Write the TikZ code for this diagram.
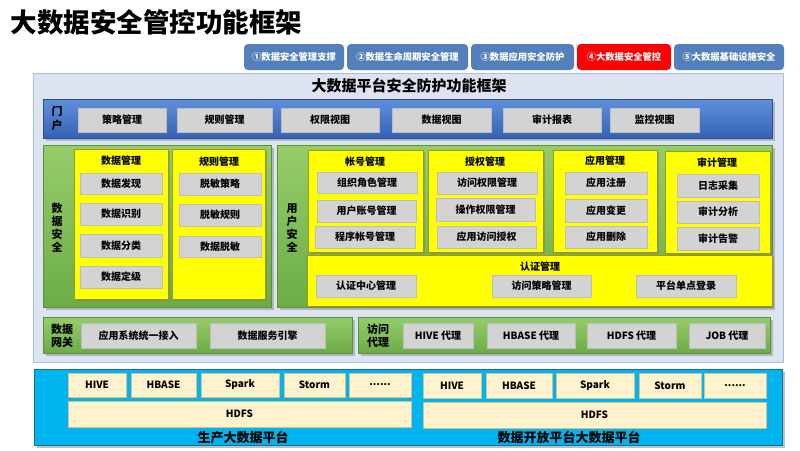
\documentclass[tikz,border=0pt]{standalone}
\usepackage{fontspec}
\setmainfont{Noto Sans CJK SC}
\usetikzlibrary{shadows}
\definecolor{tabblue}{HTML}{5380BB}
\definecolor{panelfill}{HTML}{DCE3F1}
\definecolor{paneldraw}{HTML}{A9BEE0}
\definecolor{portaltop}{HTML}{6090DB}
\definecolor{portalbot}{HTML}{3462B6}
\definecolor{portaldraw}{HTML}{2B4E8C}
\definecolor{greentop}{HTML}{96CD6A}
\definecolor{greenbot}{HTML}{6CAC46}
\definecolor{greendraw}{HTML}{5A9236}
\definecolor{yel}{HTML}{FFFF00}
\definecolor{yeldraw}{HTML}{9A9A20}
\definecolor{itemgray}{HTML}{D3D3D3}
\definecolor{itemdraw}{HTML}{BDBDBD}
\definecolor{cyanbar}{HTML}{00B5EF}
\definecolor{cyandraw}{HTML}{1C6E9C}
\definecolor{cream}{HTML}{FFF2CC}
\definecolor{creamdraw}{HTML}{CFC58A}
\newcommand\bx[7]{\node[#2,anchor=north west,outer sep=0pt,inner sep=0pt,
  minimum width={(#5-#3)*1pt},minimum height={(#6-#4)*1pt}] (#1) at (#3,#4) {#7};}
\tikzset{
  tabbox/.style={fill=tabblue,rounded corners=4pt,text=white,font=\bfseries\fontsize{9.3}{10}\selectfont},
  tabred/.style={tabbox,fill=red},
  panel/.style={fill=panelfill,draw=paneldraw,line width=0.8pt},
  portal/.style={top color=portaltop,bottom color=portalbot,draw=portaldraw,line width=0.8pt,
    drop shadow={shadow xshift=2.5pt,shadow yshift=-2.5pt,opacity=0.45}},
  greenbox/.style={top color=greentop,bottom color=greenbot,draw=greendraw,line width=0.8pt,
    drop shadow={shadow xshift=2.5pt,shadow yshift=-2.5pt,opacity=0.45}},
  yelbox/.style={fill=yel,draw=yeldraw,line width=0.8pt,
    drop shadow={shadow xshift=2pt,shadow yshift=-2pt,opacity=0.55}},
  item/.style={fill=itemgray,draw=itemdraw,line width=0.6pt,font=\bfseries\fontsize{10}{11}\selectfont},
  cyanbox/.style={fill=cyanbar,draw=cyandraw,line width=0.8pt,
    drop shadow={shadow xshift=2.5pt,shadow yshift=-2.5pt,opacity=0.5}},
  creambox/.style={fill=cream,draw=creamdraw,line width=0.7pt,font=\bfseries\fontsize{10}{11}\selectfont},
  ytitle/.style={font=\bfseries\fontsize{10}{11}\selectfont},
  vlabel/.style={font=\bfseries\fontsize{11}{13}\selectfont,align=center},
  blabel/.style={font=\bfseries\fontsize{13}{14}\selectfont},
}
\begin{document}
\begin{tikzpicture}[x=1pt,y=-1pt]
\useasboundingbox[fill=white] (0,0) rectangle (800,450);
% title
\node[anchor=west,font=\bfseries\fontsize{26.5}{30}\selectfont] (title) at (7,22) {大数据安全管控功能框架};
% tabs
\bx{t1}{tabbox}{244}{44}{344}{70}{①数据安全管理支撑}
\bx{t2}{tabbox}{347}{44}{468}{70}{②数据生命周期安全管理}
\bx{t3}{tabbox}{471}{44}{574}{70}{③数据应用安全防护}
\bx{t4}{tabred}{577}{44}{671}{70}{④大数据安全管控}
\bx{t5}{tabbox}{674}{44}{784}{70}{⑤大数据基础设施安全}
% outer panel
\bx{outer}{panel}{33}{73}{783}{362}{}
\node[font=\bfseries\fontsize{15}{16}\selectfont] (head) at (409,86) {大数据平台安全防护功能框架};
% portal
\bx{portal}{portal}{43}{99}{772}{138}{}
\node[vlabel,font=\bfseries\fontsize{11}{14}\selectfont] (pl) at (57,118) {门\\户};
\bx{p1}{item}{78}{108}{166}{132}{策略管理}
\bx{p2}{item}{177}{108}{272}{132}{规则管理}
\bx{p3}{item}{281}{108}{379}{132}{权限视图}
\bx{p4}{item}{392}{108}{491}{132}{数据视图}
\bx{p5}{item}{503}{108}{601}{132}{审计报表}
\bx{p6}{item}{610}{108}{699}{132}{监控视图}
% data security
\bx{ds}{greenbox}{43}{145}{271}{307}{}
\node[vlabel] (dsl) at (57,228) {数\\据\\安\\全};
\bx{dm}{yelbox}{74}{149}{168}{299}{}
\node[ytitle] (dmt) at (121,161) {数据管理};
\bx{dm1}{item}{80}{173}{162}{194}{数据发现}
\bx{dm2}{item}{80}{203}{162}{225}{数据识别}
\bx{dm3}{item}{80}{234}{162}{257}{数据分类}
\bx{dm4}{item}{80}{266}{162}{288}{数据定级}
\bx{rm}{yelbox}{172}{149}{265}{299}{}
\node[ytitle] (rmt) at (219,162) {规则管理};
\bx{rm1}{item}{179}{173}{261}{195}{脱敏策略}
\bx{rm2}{item}{179}{204}{261}{226}{脱敏规则}
\bx{rm3}{item}{179}{236}{261}{257}{数据脱敏}
% user security
\bx{us}{greenbox}{277}{145}{772}{307}{}
\node[vlabel] (usl) at (292,228) {用\\户\\安\\全};
\bx{am}{yelbox}{308}{150}{423}{252}{}
\node[ytitle] (amt) at (365,162) {帐号管理};
\bx{am1}{item}{317}{172}{417}{193}{组织角色管理}
\bx{am2}{item}{317}{200}{416}{222}{用户账号管理}
\bx{am3}{item}{315}{226}{415}{248}{程序帐号管理}
\bx{au}{yelbox}{428}{150}{543}{252}{}
\node[ytitle] (aut) at (485,162) {授权管理};
\bx{au1}{item}{437}{172}{537}{194}{访问权限管理}
\bx{au2}{item}{436}{198}{535}{221}{操作权限管理}
\bx{au3}{item}{437}{226}{536}{248}{应用访问授权}
\bx{ap}{yelbox}{553}{150}{657}{252}{}
\node[ytitle] (apt) at (605,161) {应用管理};
\bx{ap1}{item}{565}{172}{647}{194}{应用注册}
\bx{ap2}{item}{565}{199}{647}{222}{应用变更}
\bx{ap3}{item}{565}{226}{647}{248}{应用删除}
\bx{ad}{yelbox}{665}{151}{770}{253}{}
\node[ytitle] (adt) at (717,163) {审计管理};
\bx{ad1}{item}{677}{174}{759}{197}{日志采集}
\bx{ad2}{item}{677}{201}{759}{223}{审计分析}
\bx{ad3}{item}{677}{227}{759}{250}{审计告警}
\bx{cm}{yelbox}{307}{255}{772}{306}{}
\node[ytitle] (cmt) at (540,267) {认证管理};
\bx{cm1}{item}{316}{275}{416}{297}{认证中心管理}
\bx{cm2}{item}{492}{275}{591}{297}{访问策略管理}
\bx{cm3}{item}{636}{275}{736}{297}{平台单点登录}
% data gateway
\bx{gw}{greenbox}{43}{317}{352}{353}{}
\node[vlabel] (gwl) at (62,336) {数据\\网关};
\bx{gw1}{item}{81}{323}{196}{348}{应用系统统一接入}
\bx{gw2}{item}{210}{323}{325}{348}{数据服务引擎}
% access proxy
\bx{px}{greenbox}{358}{317}{770}{353}{}
\node[vlabel] (pxl) at (378,336) {访问\\代理};
\bx{px1}{item}{403}{323}{473}{348}{HIVE 代理}
\bx{px2}{item}{487}{323}{575}{348}{HBASE 代理}
\bx{px3}{item}{587}{323}{676}{348}{HDFS 代理}
\bx{px4}{item}{689}{323}{765}{348}{JOB 代理}
% bottom platforms
\bx{bp}{cyanbox}{34}{369}{782}{445}{}
\bx{l1}{creambox}{68}{373}{126}{397}{HIVE}
\bx{l2}{creambox}{131}{373}{196}{397}{HBASE}
\bx{l3}{creambox}{201}{373}{279}{397}{Spark}
\bx{l4}{creambox}{284}{373}{345}{397}{Storm}
\bx{l5}{creambox}{349}{373}{411}{397}{......}
\bx{lh}{creambox}{68}{401}{411}{427}{HDFS}
\node[blabel] (ll) at (243,437) {生产大数据平台};
\bx{r1}{creambox}{423}{373}{481}{398}{HIVE}
\bx{r2}{creambox}{486}{373}{552}{398}{HBASE}
\bx{r3}{creambox}{556}{373}{634}{398}{Spark}
\bx{r4}{creambox}{639}{373}{701}{398}{Storm}
\bx{r5}{creambox}{704}{373}{766}{398}{......}
\bx{rh}{creambox}{423}{402}{766}{428}{HDFS}
\node[blabel] (rl) at (569,437) {数据开放平台大数据平台};
\end{tikzpicture}
\end{document}
